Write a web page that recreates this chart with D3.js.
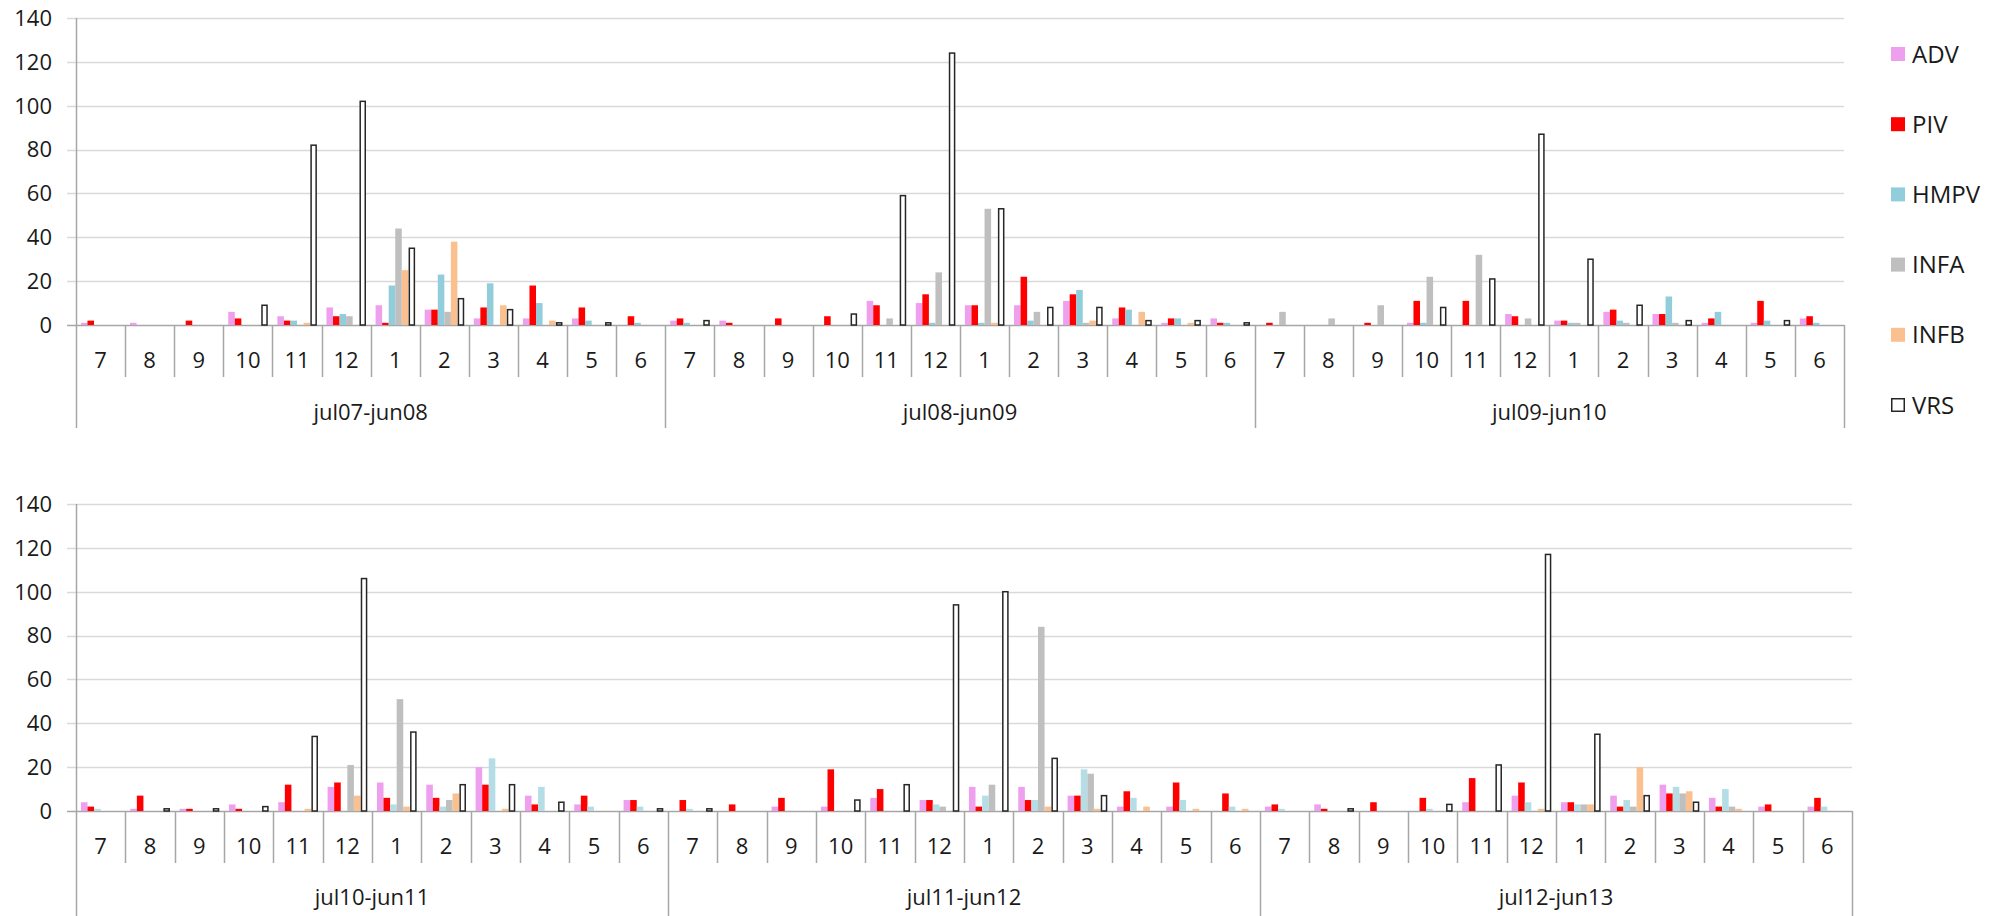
<!DOCTYPE html>
<html>
<head>
<meta charset="utf-8">
<script src="https://cdn.jsdelivr.net/npm/d3@7/dist/d3.min.js"></script>
<style>
  body { margin: 0; background: #fff; }
  svg text { font-family: "Open Sans", Lato, sans-serif; fill: #1a1a1a; }
</style>
</head>
<body>
<div id="chart"></div>
<script>
// seasons and months
var seasons = ["jul07-jun08", "jul08-jun09", "jul09-jun10", "jul10-jun11", "jul11-jun12", "jul12-jun13"];
var months = ["7", "8", "9", "10", "11", "12", "1", "2", "3", "4", "5", "6"];
var seriesNames = ["ADV", "PIV", "HMPV", "INFA", "INFB", "VRS"];
var yTicks = [0, 20, 40, 60, 80, 100, 120, 140];

// one row per season, 12 months each
var ADV = [
  [1, 1, 0, 6, 4, 8, 9, 7, 3, 3, 3, 0],
  [2, 2, 0, 0, 11, 10, 9, 9, 11, 3, 1, 3],
  [0, 0, 0, 1, 0, 5, 2, 6, 5, 1, 1, 3],
  [4, 1, 1, 3, 4, 11, 13, 12, 20, 7, 3, 5],
  [0, 0, 2, 2, 6, 5, 11, 11, 7, 2, 2, 0],
  [2, 3, 0, 0, 4, 7, 4, 7, 12, 6, 2, 2]
];
var PIV = [
  [2, 0, 2, 3, 2, 4, 1, 7, 8, 18, 8, 4],
  [3, 1, 3, 4, 9, 14, 9, 22, 14, 8, 3, 1],
  [1, 0, 1, 11, 11, 4, 2, 7, 5, 3, 11, 4],
  [2, 7, 1, 1, 12, 13, 6, 6, 12, 3, 7, 5],
  [5, 3, 6, 19, 10, 5, 2, 5, 7, 9, 13, 8],
  [3, 1, 4, 6, 15, 13, 4, 2, 8, 2, 3, 6]
];
var HMPV = [
  [0, 0, 0, 0, 2, 5, 18, 23, 19, 10, 2, 1],
  [1, 0, 0, 0, 0, 1, 1, 2, 16, 7, 3, 1],
  [0, 0, 0, 1, 0, 0, 1, 2, 13, 6, 2, 1],
  [1, 0, 0, 0, 0, 0, 3, 2, 24, 11, 2, 2],
  [1, 0, 0, 0, 0, 3, 7, 5, 19, 6, 5, 2],
  [1, 0, 0, 1, 0, 4, 3, 5, 11, 10, 0, 2]
];
var INFA = [
  [0, 0, 0, 0, 0, 4, 44, 6, 0, 0, 0, 0],
  [0, 0, 0, 0, 3, 24, 53, 6, 1, 0, 0, 0],
  [6, 3, 9, 22, 32, 3, 1, 1, 1, 0, 0, 0],
  [0, 0, 0, 0, 0, 21, 51, 5, 0, 0, 0, 0],
  [0, 0, 0, 0, 0, 2, 12, 84, 17, 0, 0, 0],
  [0, 0, 0, 0, 0, 0, 3, 2, 8, 2, 0, 0]
];
var INFB = [
  [0, 0, 0, 0, 1, 0, 25, 38, 9, 2, 0, 0],
  [0, 0, 0, 0, 0, 0, 1, 0, 2, 6, 1, 0],
  [0, 0, 0, 0, 0, 0, 0, 0, 0, 0, 0, 0],
  [0, 0, 0, 0, 1, 7, 2, 8, 1, 0, 0, 0],
  [0, 0, 0, 0, 0, 0, 0, 2, 1, 2, 1, 1],
  [0, 0, 0, 0, 0, 1, 3, 20, 9, 1, 0, 0]
];
var VRS = [
  [0, 0, 0, 9, 82, 102, 35, 12, 7, 1, 1, 0],
  [2, 0, 0, 5, 59, 124, 53, 8, 8, 2, 2, 1],
  [0, 0, 0, 8, 21, 87, 30, 9, 2, 0, 2, 0],
  [0, 1, 1, 2, 34, 106, 36, 12, 12, 4, 0, 1],
  [1, 0, 0, 5, 12, 94, 100, 24, 7, 0, 0, 0],
  [0, 1, 0, 3, 21, 117, 35, 7, 4, 0, 0, 0]
];

var seriesData = { ADV: ADV, PIV: PIV, HMPV: HMPV, INFA: INFA, INFB: INFB, VRS: VRS };
var topColors = { ADV: "#EE9FEE", PIV: "#FF0000", HMPV: "#92CDDC", INFA: "#BFBFBF", INFB: "#FAC090", VRS: "#FFFFFF" };
var bottomColors = { ADV: "#EE9FEE", PIV: "#FF0000", HMPV: "#B4DDE6", INFA: "#BFBFBF", INFB: "#FAC090", VRS: "#FFFFFF" };

var svg = d3.select("#chart").append("svg")
  .attr("width", 2001)
  .attr("height", 916);

var gridColor = "#D9D9D9";
var axisColor = "#A6A6A6";

function drawPanel(opts) {
  var panelSeasons = opts.seasons;
  var g = svg.append("g");

  // flat list of (season, month) slots
  var slots = [];
  panelSeasons.forEach(function (s) {
    months.forEach(function (m, mi) { slots.push({ season: s, month: m, mi: mi, key: s + "|" + mi }); });
  });

  var x0 = d3.scaleBand()
    .domain(slots.map(function (d) { return d.key; }))
    .range([opts.left, opts.right])
    .padding(0);

  var x1 = d3.scaleBand()
    .domain(seriesNames)
    .range([x0.bandwidth() * 0.1, x0.bandwidth() * 0.9])
    .padding(0);

  var y = d3.scaleLinear().domain([0, 140]).range([opts.bottom, opts.top]);

  // gridlines
  g.selectAll(".grid")
    .data(yTicks)
    .enter().append("line")
    .attr("x1", opts.left - 9)
    .attr("x2", opts.right)
    .attr("y1", function (d) { return Math.round(y(d)) + 0.5; })
    .attr("y2", function (d) { return Math.round(y(d)) + 0.5; })
    .attr("stroke", function (d) { return d === 0 ? axisColor : gridColor; })
    .attr("stroke-width", 1.5);

  // y tick labels
  g.selectAll(".ylab")
    .data(yTicks)
    .enter().append("text")
    .attr("x", opts.left - 24)
    .attr("y", function (d) { return y(d); })
    .attr("dy", "0.36em")
    .attr("text-anchor", "end")
    .style("font-size", "22px")
    .text(function (d) { return d; });

  // bars
  var slotGroups = g.selectAll(".slot")
    .data(slots)
    .enter().append("g")
    .attr("transform", function (d) { return "translate(" + x0(d.key) + ",0)"; });

  slotGroups.selectAll("rect")
    .data(function (d) {
      var si = seasons.indexOf(d.season);
      return seriesNames.map(function (name) {
        return { name: name, value: seriesData[name][si][d.mi] };
      });
    })
    .enter().append("rect")
    .filter(function (d) { return d.value > 0; })
    .attr("x", function (d) { return x1(d.name) + (d.name === "VRS" ? 1 : 0); })
    .attr("width", function (d) { return d.name === "VRS" ? x1.bandwidth() - 1.5 : x1.bandwidth(); })
    .attr("y", function (d) { return y(d.value); })
    .attr("height", function (d) { return y(0) - y(d.value); })
    .attr("fill", function (d) { return opts.colors[d.name]; })
    .attr("stroke", function (d) { return d.name === "VRS" ? "#262626" : "none"; })
    .attr("stroke-width", 1.5);

  // y axis line (runs down through the label area)
  g.append("line")
    .attr("x1", opts.left + 0.5).attr("x2", opts.left + 0.5)
    .attr("y1", opts.top).attr("y2", opts.groupLineEnd)
    .attr("stroke", axisColor).attr("stroke-width", 1.5);

  // month ticks
  g.selectAll(".mtick")
    .data(slots.slice(1))
    .enter().append("line")
    .attr("x1", function (d) { return Math.round(x0(d.key)) + 0.5; })
    .attr("x2", function (d) { return Math.round(x0(d.key)) + 0.5; })
    .attr("y1", opts.bottom)
    .attr("y2", function (d) { return d.mi === 0 ? opts.groupLineEnd : opts.bottom + 52; })
    .attr("stroke", axisColor)
    .attr("stroke-width", 1.5);

  // right edge
  g.append("line")
    .attr("x1", opts.right + 0.5).attr("x2", opts.right + 0.5)
    .attr("y1", opts.bottom).attr("y2", opts.groupLineEnd)
    .attr("stroke", axisColor).attr("stroke-width", 1.5);

  // month labels
  g.selectAll(".mlab")
    .data(slots)
    .enter().append("text")
    .attr("x", function (d) { return x0(d.key) + x0.bandwidth() / 2; })
    .attr("y", opts.bottom + 35)
    .attr("dy", "0.36em")
    .attr("text-anchor", "middle")
    .style("font-size", "22px")
    .text(function (d) { return d.month; });

  // season labels
  g.selectAll(".slab")
    .data(panelSeasons)
    .enter().append("text")
    .attr("x", function (s) {
      return (x0(s + "|0") + x0(s + "|11") + x0.bandwidth()) / 2;
    })
    .attr("y", opts.seasonLabelY)
    .attr("dy", "0.36em")
    .attr("text-anchor", "middle")
    .style("font-size", "22px")
    .text(function (s) { return s; });
}

drawPanel({
  seasons: seasons.slice(0, 3),
  left: 76, right: 1844, top: 18, bottom: 325,
  groupLineEnd: 428, seasonLabelY: 412,
  colors: topColors
});

drawPanel({
  seasons: seasons.slice(3, 6),
  left: 76, right: 1852, top: 504, bottom: 811,
  groupLineEnd: 916, seasonLabelY: 897,
  colors: bottomColors
});

// legend
var legend = svg.append("g").attr("transform", "translate(1891,0)");
var legendY = d3.scalePoint().domain(seriesNames).range([54, 405]);

legend.selectAll("rect")
  .data(seriesNames)
  .enter().append("rect")
  .attr("x", function (d) { return d === "VRS" ? 0.75 : 0; })
  .attr("y", function (d) { return legendY(d) - 7 + (d === "VRS" ? 0.75 : 0); })
  .attr("width", function (d) { return d === "VRS" ? 12.5 : 14; })
  .attr("height", function (d) { return d === "VRS" ? 12.5 : 14; })
  .attr("fill", function (d) { return topColors[d]; })
  .attr("stroke", function (d) { return d === "VRS" ? "#262626" : "none"; })
  .attr("stroke-width", 1.5);

legend.selectAll("text")
  .data(seriesNames)
  .enter().append("text")
  .attr("x", 21)
  .attr("y", function (d) { return legendY(d); })
  .attr("dy", "0.36em")
  .style("font-size", "24px")
  .text(function (d) { return d; });
</script>
</body>
</html>
